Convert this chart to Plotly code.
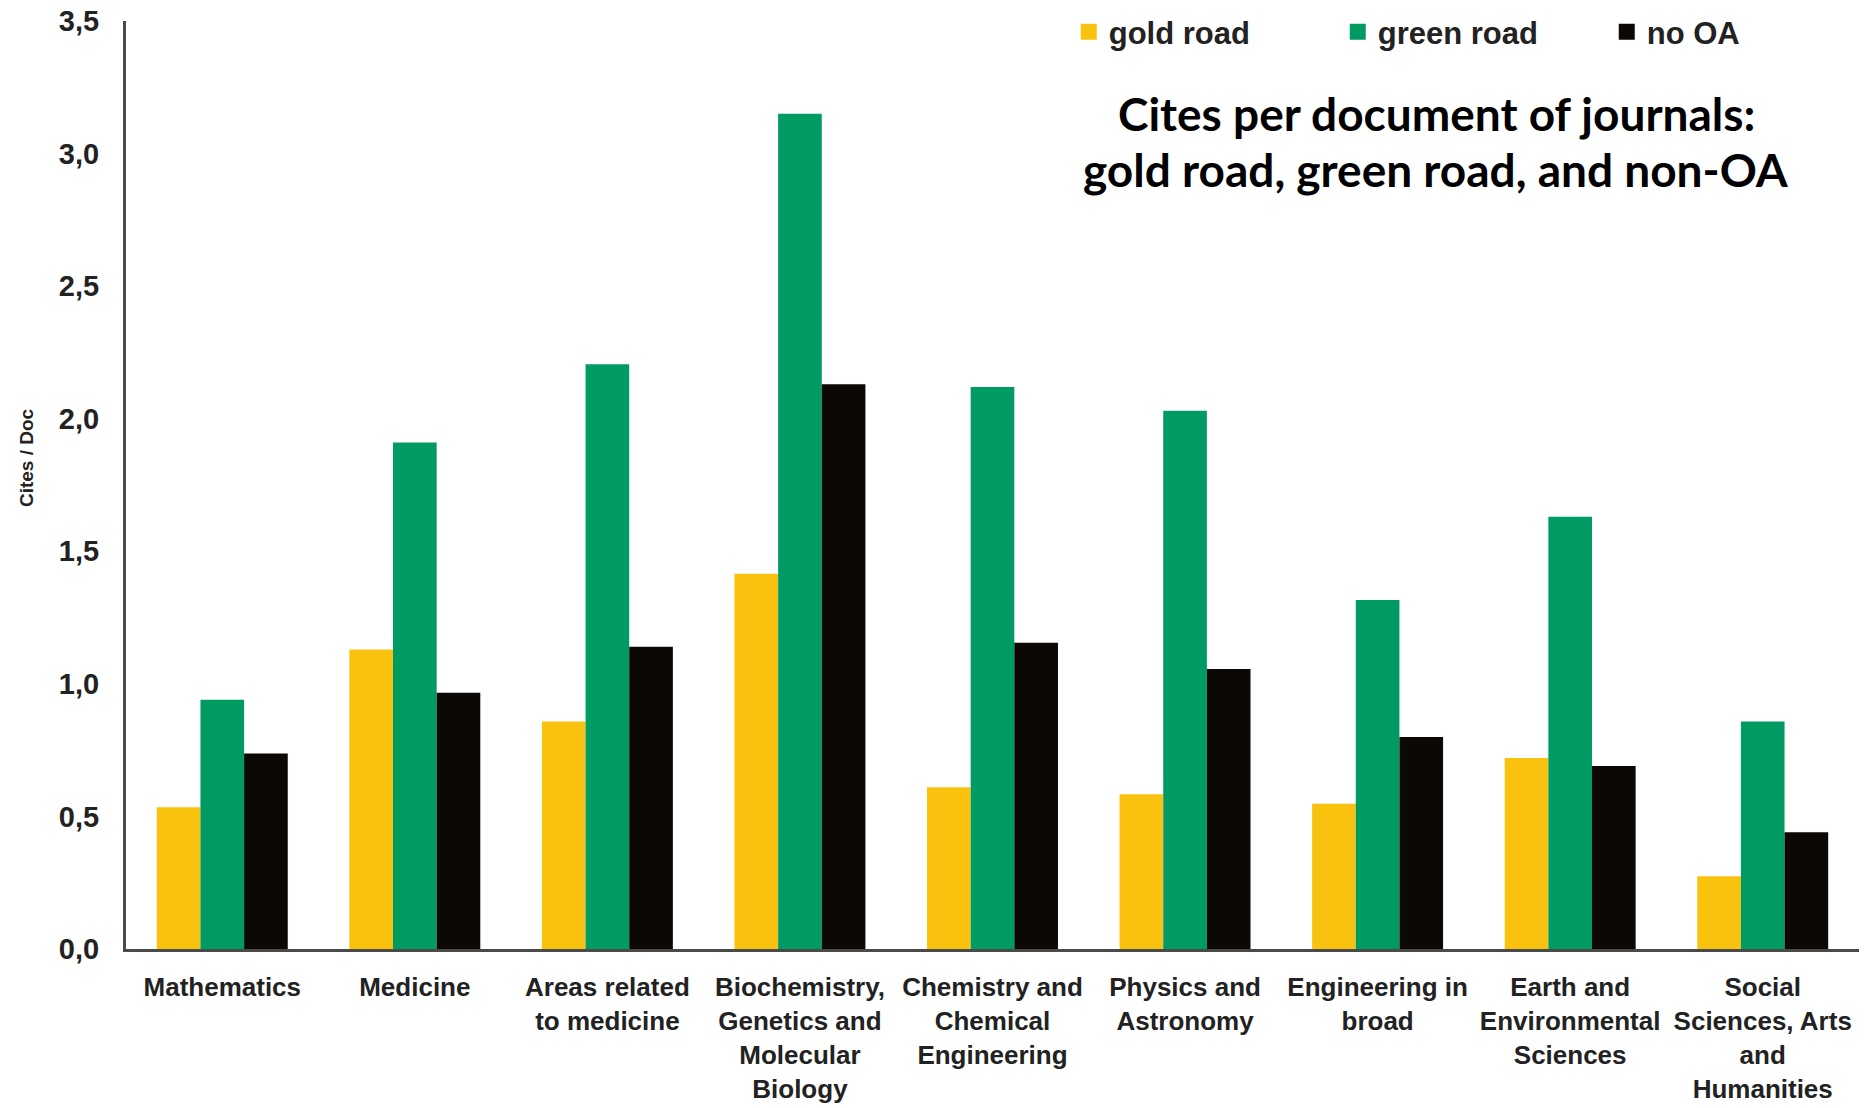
import plotly.graph_objects as go

categories = [
    "Mathematics", "Medicine", "Areas related<br>to medicine",
    "Biochemistry,<br>Genetics and<br>Molecular<br>Biology",
    "Chemistry and<br>Chemical<br>Engineering", "Physics and<br>Astronomy",
    "Engineering in<br>broad", "Earth and<br>Environmental<br>Sciences",
    "Social<br>Sciences, Arts<br>and<br>Humanities",
]
gold_road = [0.535, 1.13, 0.858, 1.415, 0.61, 0.584, 0.548, 0.72, 0.274]
green_road = [0.94, 1.91, 2.205, 3.15, 2.12, 2.03, 1.316, 1.63, 0.858]
no_oa = [0.737, 0.966, 1.14, 2.13, 1.155, 1.056, 0.80, 0.69, 0.44]
y_ticks = [0, 0.5, 1.0, 1.5, 2.0, 2.5, 3.0, 3.5]
y_tick_labels = ["0,0", "0,5", "1,0", "1,5", "2,0", "2,5", "3,0", "3,5"]
title_lines = ["Cites per document of journals:", "gold road, green road, and non-OA"]

series = [
    ("gold road", gold_road, "#F9C20F"),
    ("green road", green_road, "#009A63"),
    ("no OA", no_oa, "#0B0805"),
]

fig = go.Figure()
for name, vals, color in series:
    fig.add_trace(go.Bar(x=categories, y=vals, name=name, showlegend=False,
                         marker=dict(color=color, line=dict(width=0))))
# legend entries with larger square swatches
for name, vals, color in series:
    fig.add_trace(go.Scatter(x=[None], y=[None], mode="markers", name=name,
                             marker=dict(symbol="square", size=16, color=color),
                             showlegend=True, hoverinfo="skip"))

font_main = "Liberation Sans, Arial, sans-serif"
fig.update_layout(
    width=1866, height=1108,
    paper_bgcolor="white", plot_bgcolor="white",
    margin=dict(l=126, r=7, t=21, b=159, autoexpand=False),
    barmode="group", bargap=0.32, bargroupgap=0,
    font=dict(family=font_main, color="#222222"),
    showlegend=True,
    legend=dict(orientation="h", xref="paper", yref="paper",
                x=0.544, y=0.988, xanchor="left", yanchor="middle",
                entrywidth=224, entrywidthmode="pixels", itemwidth=30,
                font=dict(family=font_main, size=31, color="#222222", weight="bold"),
                bgcolor="rgba(0,0,0,0)"),
    xaxis=dict(showline=True, linecolor="#4a4a4a", linewidth=3, ticks="",
               tickfont=dict(family=font_main, size=26, color="#222222", weight="bold"),
               ticklabelstandoff=13, automargin=False,
               showgrid=False, zeroline=False),
    yaxis=dict(range=[0, 3.5], showline=True, linecolor="#4a4a4a", linewidth=3,
               tickvals=y_ticks, ticktext=y_tick_labels, ticks="", ticklen=0,
               tickfont=dict(family=font_main, size=29, color="#222222", weight="bold"),
               ticklabelstandoff=18, automargin=False,
               showgrid=False, zeroline=False),
)

fig.add_annotation(
    xref="paper", yref="paper", x=-0.0577, y=0.529,
    xanchor="center", yanchor="middle", showarrow=False, textangle=-90,
    text="Cites / Doc",
    font=dict(family=font_main, size=19, color="#222222", weight="bold"),
)

for line, ypos in zip(title_lines, [0.900, 0.8405]):
    fig.add_annotation(
        xref="paper", yref="paper", x=0.756, y=ypos,
        xanchor="center", yanchor="middle", showarrow=False,
        text=line,
        font=dict(family="Lato, Noto Sans, sans-serif", size=46, color="black", weight="bold"),
    )

fig.write_html(
    "out.html",
    config={"displayModeBar": False},
    post_script="document.body.style.margin='0px';document.body.style.overflow='hidden';",
)
